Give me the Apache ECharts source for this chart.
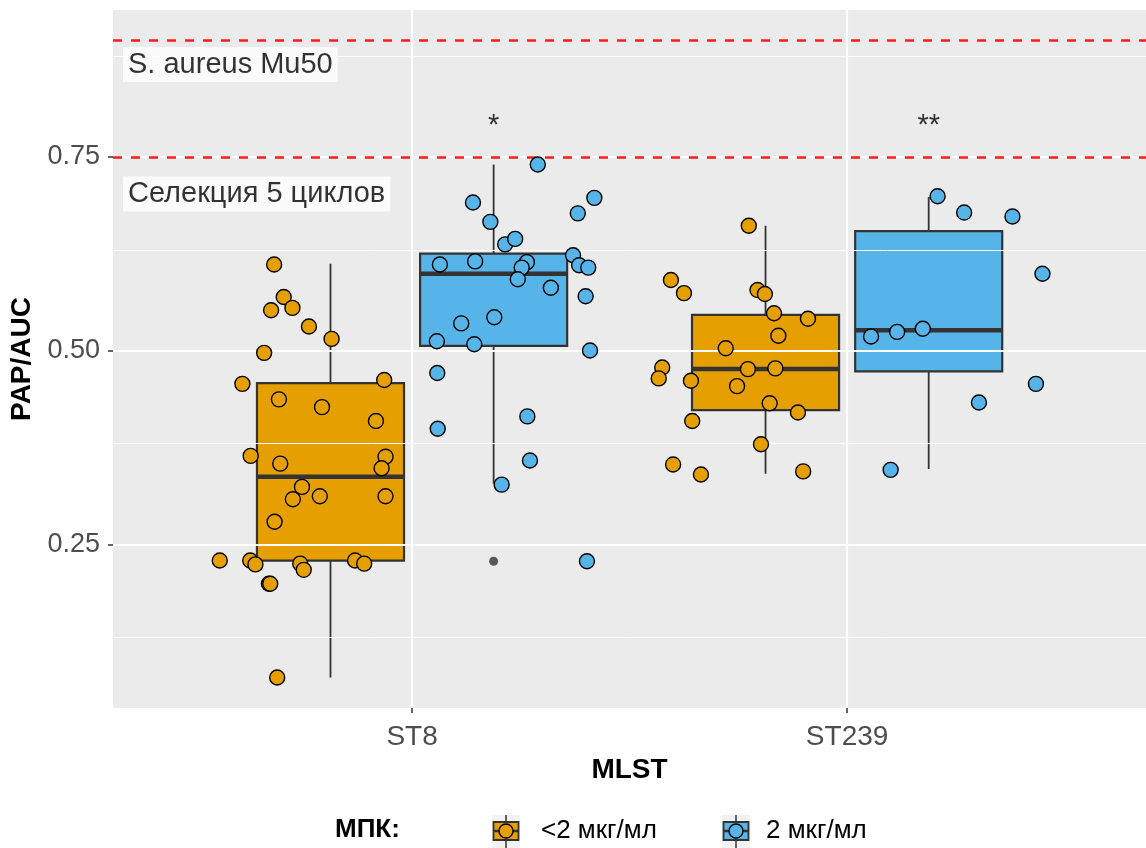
<!DOCTYPE html>
<html>
<head>
<meta charset="utf-8">
<script src="https://cdn.jsdelivr.net/npm/echarts@6/dist/echarts.min.js"></script>
<style>
  html, body { margin: 0; padding: 0; background: #fff; }
  #chart { width: 1146px; height: 848px; }
</style>
</head>
<body>
<div id="chart"></div>
<script>
// MLST groups on the x axis, MIC groups as dodged boxes
const categories = ['ST8', 'ST239'];
const groupNames = ['<2 мкг/мл', '2 мкг/мл'];
const groupColors = ['#E69F00', '#56B4E9'];
const yTicks = [0.25, 0.50, 0.75];

// Box statistics per category: [lower whisker, Q1, median, Q3, upper whisker]
const boxLowMic = [
  [0.078, 0.229, 0.337, 0.458, 0.612],
  [0.341, 0.423, 0.476, 0.546, 0.661]
];
const boxHighMic = [
  [0.328, 0.506, 0.599, 0.625, 0.740],
  [0.347, 0.473, 0.526, 0.654, 0.698]
];
// Outliers flagged by the box plot (ST8, 2 мкг/мл)
const outlierHighMic = [[0.228], []];

// Individual isolates (PAP/AUC) and their horizontal jitter
const st8LowValues = [0.611, 0.569, 0.552, 0.555, 0.531, 0.515, 0.497, 0.457, 0.462, 0.437,
  0.427, 0.409, 0.364, 0.354, 0.363, 0.348, 0.324, 0.308, 0.312, 0.312,
  0.279, 0.229, 0.229, 0.224, 0.225, 0.217, 0.229, 0.225, 0.199, 0.199, 0.078];
const st8LowJitter = [-0.317, -0.295, -0.324, -0.275, -0.237, -0.185, -0.340, -0.390, -0.064, -0.306,
  -0.207, -0.083, -0.371, -0.303, -0.061, -0.070, -0.253, -0.274, -0.212, -0.061,
  -0.316, -0.442, -0.372, -0.360, -0.257, -0.249, -0.131, -0.110, -0.329, -0.326, -0.310];

const st8HighValues = [0.740, 0.691, 0.697, 0.677, 0.666, 0.637, 0.644, 0.623, 0.611, 0.615,
  0.614, 0.607, 0.610, 0.607, 0.592, 0.581, 0.570, 0.543, 0.535, 0.512,
  0.508, 0.500, 0.471, 0.399, 0.415, 0.358, 0.327, 0.228];
const st8HighJitter = [0.289, 0.140, 0.419, 0.381, 0.180, 0.214, 0.237, 0.370, 0.064, 0.145,
  0.264, 0.252, 0.384, 0.405, 0.243, 0.319, 0.399, 0.189, 0.113, 0.057,
  0.143, 0.409, 0.058, 0.059, 0.265, 0.271, 0.206, 0.402];

const st239LowValues = [0.661, 0.591, 0.574, 0.578, 0.573, 0.548, 0.541, 0.519, 0.503, 0.478,
  0.464, 0.461, 0.476, 0.477, 0.454, 0.432, 0.420, 0.409, 0.379, 0.353, 0.340, 0.344];
const st239LowJitter = [-0.226, -0.405, -0.375, -0.206, -0.189, -0.168, -0.090, -0.158, -0.279, -0.425,
  -0.433, -0.359, -0.228, -0.165, -0.253, -0.178, -0.113, -0.356, -0.198, -0.400, -0.336, -0.101];

const st239HighValues = [0.699, 0.678, 0.673, 0.599, 0.518, 0.524, 0.528, 0.457, 0.433, 0.346];
const st239HighJitter = [0.208, 0.269, 0.380, 0.449, 0.055, 0.115, 0.174, 0.434, 0.303, 0.100];

// Reference strains (dashed lines) and their labels
const refLines = [0.90, 0.75];
const refLabels = ['S. aureus Mu50', 'Селекция 5 циклов'];
const refLabelY = [0.869, 0.702];
// Significance marks above each MLST group
const sigMarks = ['*', '**'];
const sigY = 0.79;

const DODGE = 0.1875;
const BOX_HALF = 0.169;
const FONT = '"Liberation Sans", Arial, Helvetica, sans-serif';

const chart = echarts.init(document.getElementById('chart'), null, { renderer: 'canvas' });

function boxSeries(stats, sign, color) {
  return {
    type: 'custom',
    z: 3,
    silent: true,
    data: stats.map((s, i) => [i + 1, sign * DODGE].concat(s)),
    renderItem: function (params, api) {
      const cx = api.value(0) + api.value(1);
      const lw = api.value(2), q1 = api.value(3), med = api.value(4), q3 = api.value(5), uw = api.value(6);
      const tl = api.coord([cx - BOX_HALF, q3]);
      const br = api.coord([cx + BOX_HALF, q1]);
      const cUw = api.coord([cx, uw]), cQ3 = api.coord([cx, q3]);
      const cQ1 = api.coord([cx, q1]), cLw = api.coord([cx, lw]);
      const mL = api.coord([cx - BOX_HALF, med]), mR = api.coord([cx + BOX_HALF, med]);
      const wStyle = { stroke: '#333333', lineWidth: 1.8 };
      return {
        type: 'group',
        children: [
          { type: 'line', shape: { x1: cUw[0], y1: cUw[1], x2: cQ3[0], y2: cQ3[1] }, style: wStyle },
          { type: 'line', shape: { x1: cQ1[0], y1: cQ1[1], x2: cLw[0], y2: cLw[1] }, style: wStyle },
          { type: 'rect', shape: { x: tl[0], y: tl[1], width: br[0] - tl[0], height: br[1] - tl[1] },
            style: { fill: color, stroke: '#333333', lineWidth: 2.2 } },
          { type: 'line', shape: { x1: mL[0], y1: mL[1], x2: mR[0], y2: mR[1] },
            style: { stroke: '#333333', lineWidth: 4.5 } }
        ]
      };
    }
  };
}

function pointSeries(catIndex, values, jitter, color) {
  return {
    type: 'scatter',
    z: 5,
    silent: true,
    symbol: 'circle',
    symbolSize: 15,
    itemStyle: { color: color, borderColor: '#000000', borderWidth: 1.4, opacity: 1 },
    data: values.map((v, i) => [catIndex + 1 + jitter[i], v])
  };
}

const outlierData = [];
outlierHighMic.forEach((arr, i) => arr.forEach(v => outlierData.push([i + 1 + DODGE, v])));

const minorY = [0.125, 0.375, 0.625, 0.875];

const option = {
  animation: false,
  backgroundColor: '#ffffff',
  grid: {
    left: 113, right: 0, top: 10, bottom: 140,
    show: true, backgroundColor: '#EBEBEB', borderWidth: 0
  },
  xAxis: {
    type: 'value',
    min: 0.3126, max: 2.687,
    name: 'MLST', nameLocation: 'middle', nameGap: 44,
    nameTextStyle: { fontFamily: FONT, fontSize: 28, fontWeight: 'bold', color: '#000000' },
    axisLine: { show: false },
    splitLine: { show: false },
    axisTick: { show: true, customValues: [1, 2], length: 5, lineStyle: { color: '#333333', width: 1.5 } },
    axisLabel: {
      customValues: [1, 2], margin: 15,
      fontFamily: FONT, fontSize: 28, color: '#4D4D4D',
      formatter: v => categories[Math.round(v) - 1]
    }
  },
  yAxis: {
    type: 'value',
    min: 0.0387, max: 0.9394,
    name: 'PAP/AUC', nameLocation: 'middle', nameGap: 70, nameRotate: 90,
    nameTextStyle: { fontFamily: FONT, fontSize: 28, fontWeight: 'bold', color: '#000000' },
    axisLine: { show: false },
    splitLine: { show: false },
    axisTick: { show: true, customValues: yTicks, length: 5, lineStyle: { color: '#333333', width: 1.5 } },
    axisLabel: {
      customValues: yTicks, margin: 13,
      fontFamily: FONT, fontSize: 27, color: '#4D4D4D',
      formatter: v => v.toFixed(2)
    }
  },
  series: [
    // panel grid lines
    {
      type: 'scatter', data: [], z: 1, silent: true,
      markLine: {
        silent: true, symbol: 'none', label: { show: false },
        lineStyle: { color: '#FFFFFF', width: 1, type: 'solid' },
        data: minorY.map(v => ({ yAxis: v }))
      }
    },
    {
      type: 'scatter', data: [], z: 2, silent: true,
      markLine: {
        silent: true, symbol: 'none', label: { show: false },
        lineStyle: { color: '#FFFFFF', width: 2.2, type: 'solid' },
        data: yTicks.map(v => ({ yAxis: v })).concat([{ xAxis: 1 }, { xAxis: 2 }])
      }
    },
    boxSeries(boxLowMic, -1, groupColors[0]),
    boxSeries(boxHighMic, 1, groupColors[1]),
    {
      type: 'scatter', z: 4, silent: true, symbol: 'circle', symbolSize: 9,
      itemStyle: { color: '#333333' },
      data: outlierData
    },
    // reference lines
    {
      type: 'scatter', data: [], z: 4, silent: true,
      markLine: {
        silent: true, symbol: 'none', label: { show: false },
        lineStyle: { color: '#FF1A1A', width: 2.5, type: [9, 9] },
        data: refLines.map(v => ({ yAxis: v }))
      }
    },
    pointSeries(0, st8LowValues, st8LowJitter, groupColors[0]),
    pointSeries(0, st8HighValues, st8HighJitter, groupColors[1]),
    pointSeries(1, st239LowValues, st239LowJitter, groupColors[0]),
    pointSeries(1, st239HighValues, st239HighJitter, groupColors[1]),
    // reference labels
    {
      type: 'scatter', z: 6, silent: true, symbolSize: 0,
      data: refLabels.map((t, i) => ({ value: [0.3356, refLabelY[i]], name: t })),
      label: {
        show: true, position: 'right', distance: 0,
        formatter: p => p.name,
        fontFamily: FONT, fontSize: 29, color: '#000000',
        backgroundColor: '#FFFFFF', padding: [3, 5, 3, 5]
      }
    },
    // significance marks
    {
      type: 'scatter', z: 6, silent: true, symbolSize: 0,
      data: sigMarks.map((t, i) => ({ value: [i + 1 + DODGE, sigY], name: t })),
      label: {
        show: true, position: 'inside',
        formatter: p => p.name,
        fontFamily: FONT, fontSize: 29, color: '#000000'
      }
    }
  ]
};

chart.setOption(option);

// Legend: МПК groups with box-and-point keys
(function drawLegend() {
  const cy = 831;
  const keyCenters = [506, 736];
  const textLeft = [541, 766];
  const elements = [
    { type: 'text', left: 335, top: cy - 14, style: { text: 'МПК:', font: 'bold 26px ' + FONT, fill: '#000000' } }
  ];
  groupNames.forEach((name, i) => {
    const x = keyCenters[i];
    elements.push({ type: 'rect', shape: { x: x - 14, y: cy - 16, width: 28, height: 33 }, style: { fill: '#F2F2F2' } });
    elements.push({ type: 'line', shape: { x1: x, y1: cy - 16, x2: x, y2: cy + 17 }, style: { stroke: '#333333', lineWidth: 1.5 } });
    elements.push({ type: 'rect', shape: { x: x - 12.5, y: cy - 9, width: 25, height: 18 },
      style: { fill: groupColors[i], stroke: '#333333', lineWidth: 1.8 } });
    elements.push({ type: 'line', shape: { x1: x - 12.5, y1: cy, x2: x + 12.5, y2: cy }, style: { stroke: '#333333', lineWidth: 2.5 } });
    elements.push({ type: 'circle', shape: { cx: x, cy: cy, r: 7 }, style: { fill: groupColors[i], stroke: '#000000', lineWidth: 1.4 } });
    elements.push({ type: 'text', left: textLeft[i], top: cy - 13, style: { text: name, font: '26px ' + FONT, fill: '#000000' } });
  });
  chart.setOption({ graphic: { elements: elements } });
})();
</script>
</body>
</html>
